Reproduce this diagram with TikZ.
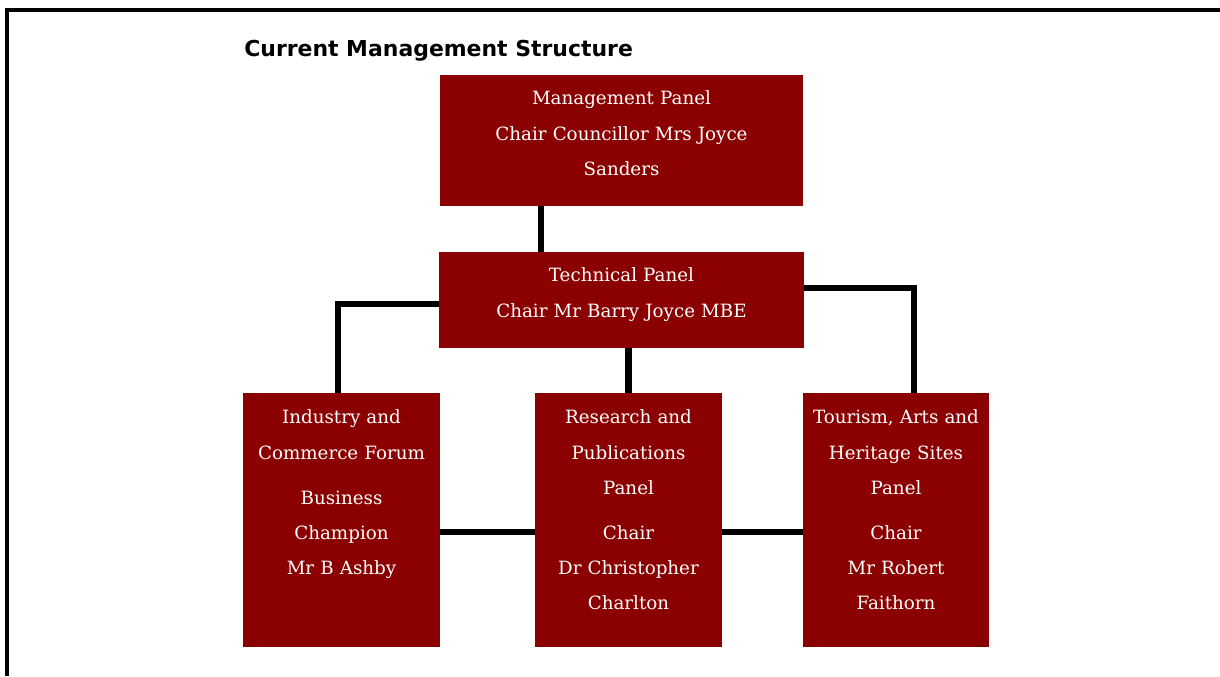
\documentclass[tikz,border=0pt]{standalone}
\usepackage{fontspec}
\setmainfont{DejaVu Serif}
\newfontfamily\headfont{DejaVu Sans}
\definecolor{panelred}{RGB}{139,0,0}

\begin{document}
\begin{tikzpicture}[x=0.025cm, y=-0.025cm,
  panel/.style={fill=panelred, text=white, align=center, inner sep=0pt,
    font=\fontsize{13}{25}\selectfont},
  link/.style={line width=4.6pt}]

\useasboundingbox (0,0) rectangle (1220,676);

% page frame
\draw [line width=2.3pt] (7,676) -- (7,10) -- (1220,10);

\node (title) [anchor=west, inner sep=0pt, font=\headfont\bfseries\fontsize{15.6}{18}\selectfont] at (244,51) {Current Management Structure};

\node (mgmt) [panel, text width=9.075cm, text height=0.75cm, text depth=2.525cm] at (621.5,140.5) {Management Panel \\ Chair Councillor Mrs Joyce \\ Sanders};

\node (tech) [panel, text width=9.125cm, text height=0.75cm, text depth=1.65cm] at (621.5,300) {Technical Panel \\ Chair Mr Barry Joyce MBE};

\node (ind) [panel, text width=4.925cm, text height=0.775cm, text depth=5.575cm] at (341.5,520) {Industry and \\ Commerce Forum \\[7pt] Business \\ Champion \\ Mr B Ashby};

\node (res) [panel, text width=4.675cm, text height=0.775cm, text depth=5.575cm] at (628.5,520) {Research and \\ Publications \\ Panel \\[7pt] Chair \\ Dr Christopher \\ Charlton};

\node (tour) [panel, text width=4.65cm, text height=0.775cm, text depth=5.575cm] at (896,520) {Tourism, Arts and \\ Heritage Sites \\ Panel \\[7pt] Chair \\ Mr Robert \\ Faithorn};

\draw [link] ([xshift=-2.01cm]mgmt.south) -- ([xshift=-2.01cm]tech.north);
\draw [link] ([yshift=-0.1cm]tech.west) -| ([xshift=-0.09cm]ind.north);
\draw [link] ([yshift=0.3cm]tech.east) -| ([xshift=0.45cm]tour.north);
\draw [link] (res.north) -- (res.north |- tech.south);
\draw [link] ([yshift=-0.3cm]ind.east) -- ([yshift=-0.3cm]res.west);
\draw [link] ([yshift=-0.3cm]res.east) -- ([yshift=-0.3cm]tour.west);

\end{tikzpicture}
\end{document}
